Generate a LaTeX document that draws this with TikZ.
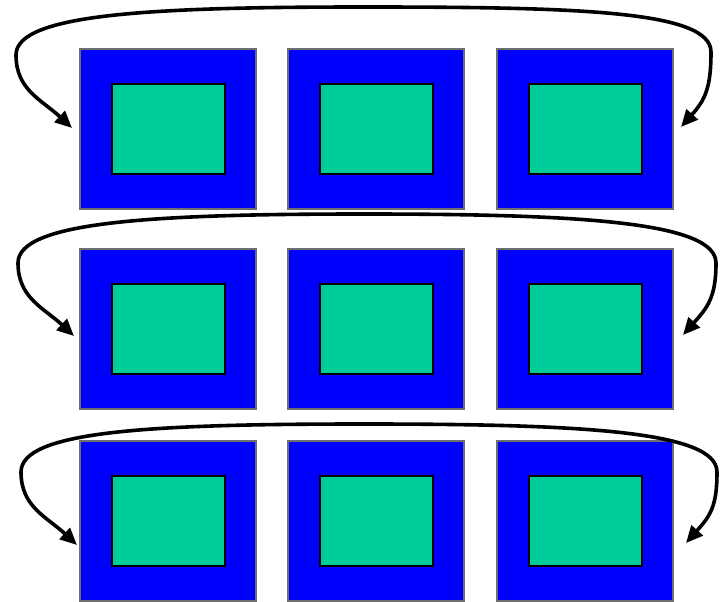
\documentclass[tikz,border=0pt]{standalone}
\usetikzlibrary{arrows.meta}
\definecolor{outerblue}{RGB}{0,0,255}
\definecolor{innergreen}{RGB}{0,204,153}
\definecolor{edgegray}{RGB}{110,110,110}
\begin{document}
\begin{tikzpicture}[x=1pt,y=-1pt,
  outerbox/.style={draw=edgegray,line width=1.2pt,fill=outerblue,minimum width=176pt,minimum height=160pt,inner sep=0pt,outer sep=0pt},
  innerbox/.style={draw=black,line width=1.4pt,fill=innergreen,minimum width=113pt,minimum height=90pt,inner sep=0pt,outer sep=0pt},
  loop/.style={line width=3.6pt,-{Triangle[length=17pt,width=15pt]}}]
\useasboundingbox (0,0) rectangle (721,602);
% boxes
\foreach \r/\y in {1/129,2/329,3/521}{
  \foreach \c/\x in {1/168,2/376,3/585}{
    \node[outerbox] (o\r\c) at (\x,\y) {};
    \node[innerbox] (i\r\c) at (\x+0.5,\y) {};
  }
}
% row 1
\coordinate (t1) at (364,7);
\coordinate (l1) at (16,55);
\coordinate (r1) at (711,52);
\coordinate (a1) at (72,128);
\coordinate (b1) at (681,127);
\draw[loop] (t1) .. controls (150,7) and (16,14) .. (l1) .. controls (16,90) and (42,100) .. (a1);
\draw[loop] (t1) .. controls (580,7) and (711,11) .. (r1) .. controls (711,88) and (705,100) .. (b1);
% row 2
\coordinate (t2) at (364,214);
\coordinate (l2) at (18,263);
\coordinate (r2) at (716,263);
\coordinate (a2) at (74,336);
\coordinate (b2) at (683,335);
\draw[loop] (t2) .. controls (150,214) and (18,222) .. (l2) .. controls (18,298) and (44,308) .. (a2);
\draw[loop] (t2) .. controls (580,214) and (716,222) .. (r2) .. controls (716,298) and (707,308) .. (b2);
% row 3
\coordinate (t3) at (364,424);
\coordinate (l3) at (21,472);
\coordinate (r3) at (717,472);
\coordinate (a3) at (77,545);
\coordinate (b3) at (686,543);
\draw[loop] (t3) .. controls (150,424) and (21,431) .. (l3) .. controls (21,507) and (47,517) .. (a3);
\draw[loop] (t3) .. controls (580,424) and (717,431) .. (r3) .. controls (717,507) and (710,516) .. (b3);
\end{tikzpicture}
\end{document}
